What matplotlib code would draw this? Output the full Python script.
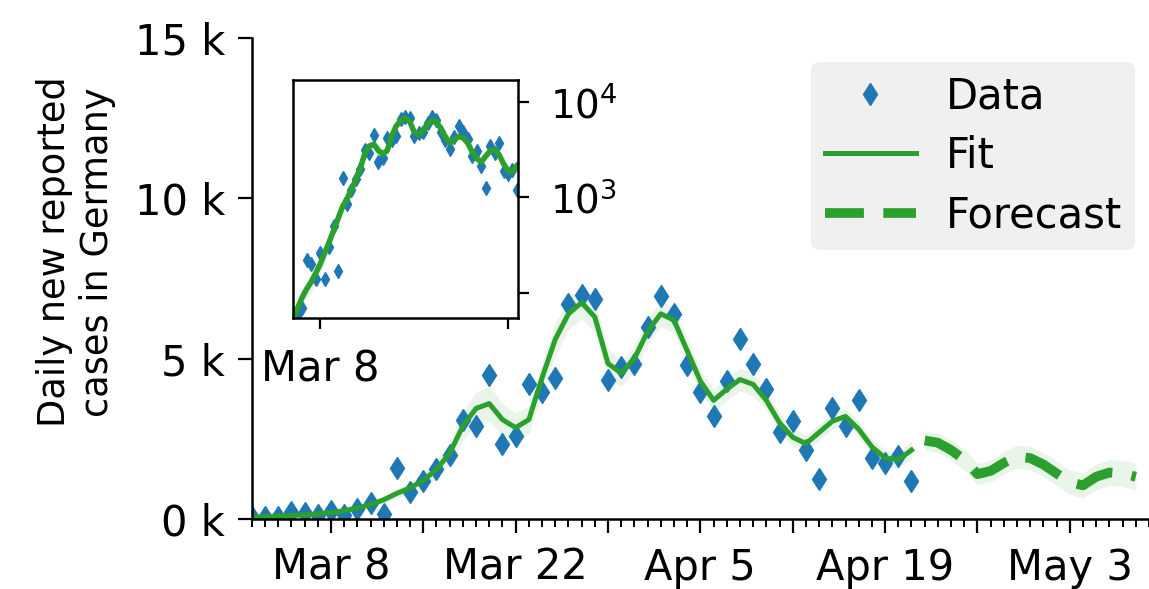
import pandas as pd
import matplotlib
matplotlib.use("Agg")
import matplotlib.pyplot as plt
from matplotlib.ticker import FuncFormatter, NullLocator

# daily new reported cases in thousands, Mar 2 - Apr 21 2020
cases_k = [0.05, 0.06, 0.07, 0.22, 0.20, 0.14, 0.26, 0.14, 0.30, 0.50, 0.17,
           1.60, 0.85, 1.20, 1.55, 2.00, 3.10, 2.90, 4.50, 2.35, 2.60,
           4.20, 3.95, 4.40, 6.70, 7.00, 6.85, 4.35, 4.75, 4.85,
           6.00, 6.95, 6.40, 4.80, 3.95, 3.20, 4.30, 5.60, 4.85, 4.05,
           2.70, 3.05, 2.15, 1.25, 3.45, 2.90, 3.70, 1.90, 1.75, 1.95, 1.20]

# model fit over the same days
fit_k = [0.054, 0.07, 0.09, 0.11, 0.13, 0.16, 0.20, 0.26, 0.34, 0.45, 0.60,
         0.80, 0.97, 1.20, 1.55, 2.05, 2.90, 3.45, 3.60, 3.10, 2.85,
         3.10, 4.40, 5.60, 6.40, 6.75, 6.30, 4.85, 4.55, 5.00,
         5.85, 6.40, 6.20, 5.25, 4.30, 3.70, 4.05, 4.35, 4.20, 3.70,
         3.00, 2.55, 2.35, 2.70, 3.05, 3.20, 2.80, 2.25, 1.90, 1.85, 2.15]
fit_band_k = [0.01, 0.01, 0.02, 0.02, 0.03, 0.03, 0.04, 0.05, 0.06, 0.08, 0.10,
              0.15, 0.20, 0.25, 0.30, 0.35, 0.45, 0.50, 0.55, 0.50, 0.45,
              0.45, 0.50, 0.50, 0.50, 0.50, 0.50, 0.45, 0.40, 0.40,
              0.40, 0.40, 0.40, 0.40, 0.35, 0.35, 0.35, 0.35, 0.35, 0.30,
              0.30, 0.30, 0.25, 0.25, 0.25, 0.25, 0.25, 0.25, 0.25, 0.25, 0.30]

# forecast Apr 22 - May 8
forecast_k = [2.45, 2.38, 2.15, 1.85, 1.40, 1.50, 1.75, 1.95, 1.90, 1.70,
              1.42, 1.15, 1.05, 1.32, 1.45, 1.42, 1.32]
forecast_band_k = [0.30, 0.30, 0.32, 0.32, 0.33, 0.34, 0.35, 0.36, 0.37, 0.37,
                   0.38, 0.38, 0.39, 0.40, 0.40, 0.41, 0.42]

tick_dates = ["2020-03-08", "2020-03-15", "2020-03-22", "2020-03-29", "2020-04-05",
              "2020-04-12", "2020-04-19", "2020-04-26", "2020-05-03"]
tick_labels = ["Mar 8", "", "Mar 22", "", "Apr 5", "", "Apr 19", "", "May 3"]
inset_tick_dates = ["2020-03-08", "2020-04-19"]
inset_tick_labels = ["Mar 8", ""]

green = "tab:green"
blue = "tab:blue"
fs = 30

days = pd.date_range("2020-03-02", periods=len(cases_k))
fc_days = pd.date_range("2020-04-22", periods=len(forecast_k))
cases = [v * 1000 for v in cases_k]
fit = [v * 1000 for v in fit_k]
fit_lo = [(v - b) * 1000 for v, b in zip(fit_k, fit_band_k)]
fit_hi = [(v + b) * 1000 for v, b in zip(fit_k, fit_band_k)]
fc = [v * 1000 for v in forecast_k]
fc_lo = [(v - b) * 1000 for v, b in zip(forecast_k, forecast_band_k)]
fc_hi = [(v + b) * 1000 for v, b in zip(forecast_k, forecast_band_k)]

fig = plt.figure(figsize=(11.49, 5.89), dpi=100)
ax = fig.add_axes([0.2191, 0.1188, 0.7809, 0.8166])

ax.fill_between(days, fit_lo, fit_hi, color=green, alpha=0.1, lw=0)
ax.fill_between(fc_days, fc_lo, fc_hi, color=green, alpha=0.1, lw=0)
h_data, = ax.plot(days, cases, "d", color=blue, ms=11.5, mew=1, label="Data")
h_fit, = ax.plot(days, fit, color=green, lw=3.6, label="Fit")
h_fc, = ax.plot(fc_days, fc, color=green, lw=7, ls=(0, (4.0, 2.0)), label="Forecast")

start = pd.Timestamp("2020-03-02")
ax.set_xlim(start, start + pd.Timedelta(days=67.3))
ax.set_ylim(0, 15000)
ax.set_yticks([0, 5000, 10000, 15000])
ax.yaxis.set_major_formatter(FuncFormatter(lambda v, p: f"{v / 1000:.0f} k"))
ax.set_xticks(pd.to_datetime(tick_dates))
ax.set_xticklabels(tick_labels)
ax.set_xticks(pd.date_range("2020-03-02", "2020-05-09"), minor=True)
ax.spines["top"].set_visible(False)
ax.spines["right"].set_visible(False)
for s in ["left", "bottom"]:
    ax.spines[s].set_linewidth(1.8)
ax.tick_params(which="major", length=10, width=1.6, labelsize=fs)
ax.tick_params(which="minor", length=5.5, width=1.4)
ax.tick_params(axis="x", which="major", pad=10)
ax.tick_params(axis="y", which="major", pad=9)

ax.set_ylabel("Daily new reported\ncases in Germany", fontsize=26.5, va="center")
ax.yaxis.set_label_coords(-0.196, 0.555)

ax.legend([h_data, h_fit, h_fc], ["Data", "Fit", "Forecast"],
          loc="upper right", bbox_to_anchor=(1135 / 1149, 1 - 62 / 589),
          bbox_transform=fig.transFigure, borderaxespad=0, fontsize=fs,
          facecolor="0.94", edgecolor="none", framealpha=1,
          handlelength=2.2, labelspacing=0.42, handletextpad=0.7, borderpad=0.32)

# log-scale inset
inax = fig.add_axes([0.2553, 0.4596, 0.1958, 0.4046])
inax.fill_between(days, fit_lo, fit_hi, color=green, alpha=0.1, lw=0)
inax.plot(days, cases, "d", color=blue, ms=7, mew=1)
inax.plot(days, fit, color=green, lw=4)
inax.set_yscale("log")
inax.set_xlim(start, start + pd.Timedelta(days=50.3))
inax.set_ylim(54, 17000)
inax.yaxis.tick_right()
inax.set_yticks([1e2, 1e3, 1e4])
inax.set_yticklabels(["", "$10^3$", "$10^4$"])
inax.yaxis.set_minor_locator(NullLocator())
inax.set_xticks(pd.to_datetime(inset_tick_dates))
inax.set_xticklabels(inset_tick_labels)
inax.xaxis.set_minor_locator(NullLocator())
for s in inax.spines.values():
    s.set_linewidth(1.8)
inax.tick_params(length=8, width=1.6, labelsize=fs)
inax.tick_params(axis="y", labelsize=28, pad=15)
inax.tick_params(axis="x", pad=14)

fig.savefig("out.png", dpi=100)
